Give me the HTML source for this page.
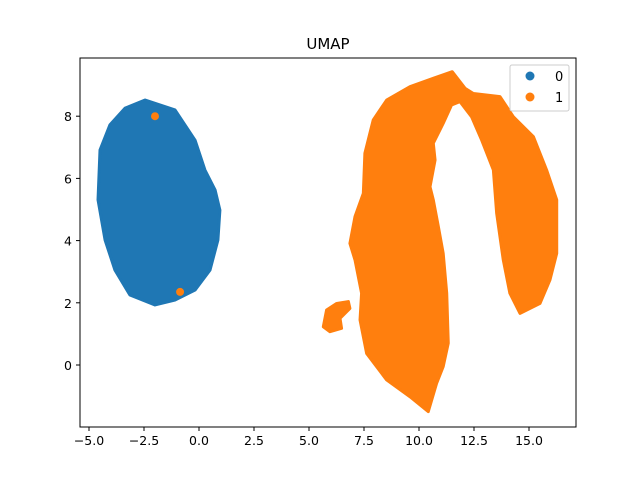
<!DOCTYPE html>
<html><head><meta charset="utf-8"><style>
body{margin:0;background:#fff;}
svg{display:block;font-family:"DejaVu Sans","Liberation Sans",sans-serif;}
</style></head><body>
<svg id="chart" width="640" height="480"></svg>
<script>
const xTicks=[-5,-2.5,0,2.5,5,7.5,10,12.5,15];
const xTickLabels=["−5.0","−2.5","0.0","2.5","5.0","7.5","10.0","12.5","15.0"];
const yTicks=[0,2,4,6,8];
const yTickLabels=["0","2","4","6","8"];
const class0X=[-2.45,-1.09,-0.18,0.27,0.73,0.95,0.86,0.5,-0.18,-1.09,-2.0,-3.14,-3.82,-4.27,-4.59,-4.5,-4.05,-3.36];
const class0Y=[8.52,8.2,7.23,6.27,5.63,4.98,4.02,3.05,2.41,2.09,1.93,2.25,3.05,4.02,5.31,6.91,7.72,8.26];
const class1X=[11.51,12.09,12.47,13.68,14.29,15.2,15.8,16.26,16.26,15.95,15.5,14.59,14.13,13.83,13.53,13.38,12.85,12.39,11.86,11.48,11.1,10.65,10.73,10.5,10.65,10.88,11.1,11.26,11.33,11.1,10.8,10.42,9.59,8.53,7.62,7.32,7.39,7.09,6.86,7.09,7.47,7.54,7.92,8.53,9.59,10.65];
const class1Y=[9.43,8.9,8.73,8.63,7.98,7.34,6.27,5.31,3.59,2.73,1.98,1.66,2.31,3.38,4.88,6.27,7.23,7.98,8.47,8.36,7.77,7.13,6.59,5.73,5.31,4.45,3.59,2.31,0.7,-0.05,-0.59,-1.5,-1.02,-0.48,0.37,1.45,2.31,3.38,3.91,4.77,5.52,6.81,7.88,8.52,8.95,9.22];
const blobX=[5.65,5.8,6.26,6.79,6.86,6.41,6.48,5.95];
const blobY=[1.23,1.77,1.98,2.04,1.82,1.5,1.18,1.07];
const outlierX=[-2.0,-0.86];
const outlierY=[8.0,2.35];

const NS="http://www.w3.org/2000/svg";
const svg=document.getElementById('chart');
const L=80,R=576,T=58,B=427;
const sx=v=>89+22*(v+5);
const sy=v=>365-31.1*v;
function mk(tag,attrs,parent){const e=document.createElementNS(NS,tag);for(const k in attrs)e.setAttribute(k,attrs[k]);(parent||svg).appendChild(e);return e;}

function poly(xs,ys,color,name){
  const p=mk('polygon',{points:xs.map((x,i)=>sx(x)+','+sy(ys[i])).join(' '),fill:color,stroke:color,'stroke-width':3,'stroke-linejoin':'round'});
  
  
}
poly(class0X,class0Y,'#1f77b4','cluster-0');
poly(class1X,class1Y,'#ff7f0e','cluster-1-main');
poly(blobX,blobY,'#ff7f0e','cluster-1-blob');
outlierX.forEach((x,i)=>{
  const c=mk('circle',{cx:sx(x),cy:sy(outlierY[i]),r:4,fill:'#ff7f0e'});
  
  
});

const frame=mk('rect',{x:L,y:T,width:R-L,height:B-T,fill:'none',stroke:'#000','stroke-width':1});



xTicks.forEach((v,i)=>{
  const x=sx(v);
  mk('line',{x1:x,x2:x,y1:B,y2:B+4,stroke:'#000'});
  const t=mk('text',{x:x,y:B+18,'font-size':12.5,'text-anchor':'middle'});
  t.textContent=xTickLabels[i];
  
  
});
yTicks.forEach((v,i)=>{
  const y=sy(v);
  mk('line',{x1:L-4,x2:L,y1:y,y2:y,stroke:'#000'});
  const t=mk('text',{x:L-8,y:y+5,'font-size':12.5,'text-anchor':'end'});
  t.textContent=yTickLabels[i];
  
  
});
const title=mk('text',{x:328,y:49,'font-size':15,'text-anchor':'middle'});
title.textContent='UMAP';



const lg=mk('g',{});


mk('rect',{x:510,y:65,width:59,height:46,rx:2,fill:'#fff',stroke:'#ccc'},lg);
const labels=['0','1'],cols=['#1f77b4','#ff7f0e'];
labels.forEach((l,i)=>{
  const g=mk('g',{},lg);
  
  
  mk('circle',{cx:530,cy:76+i*21,r:4.5,fill:cols[i]},g);
  const t=mk('text',{x:555,y:81+i*21,'font-size':13},g);
  t.textContent=l;
});
</script>
</body></html>
